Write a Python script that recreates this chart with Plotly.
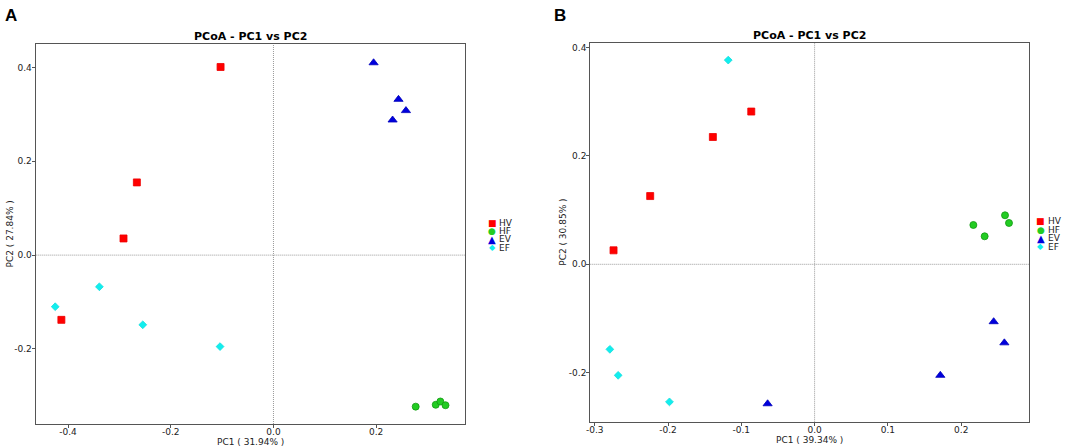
import plotly.graph_objects as go

groups = ["HV", "HF", "EV", "EF"]
colors = {"HV": "#ff0000", "HF": "#22cc22", "EV": "#0000dd", "EF": "#11eeee"}
lines = {"HV": "#ee0000", "HF": "#119911", "EV": "#0000bb", "EF": "#11dddd"}
symbols = {"HV": "square", "HF": "circle", "EV": "triangle-up", "EF": "diamond"}
glyphs = {"HV": "■", "HF": "●", "EV": "▲", "EF": "◆"}
sizes = {"HV": 7, "HF": 7, "EV": 8, "EF": 6}

# Panel A
a_x = {
    "HV": [-0.103, -0.266, -0.292, -0.413],
    "HF": [0.277, 0.316, 0.325, 0.335],
    "EV": [0.195, 0.2435, 0.258, 0.232],
    "EF": [-0.425, -0.339, -0.2545, -0.104],
}
a_y = {
    "HV": [0.401, 0.155, 0.0355, -0.138],
    "HF": [-0.323, -0.319, -0.312, -0.320],
    "EV": [0.410, 0.332, 0.308, 0.288],
    "EF": [-0.110, -0.0675, -0.1485, -0.195],
}
# Panel B
b_x = {
    "HV": [-0.2743, -0.2243, -0.1388, -0.0864],
    "HF": [0.2166, 0.232, 0.2598, 0.2652],
    "EV": [-0.0641, 0.1715, 0.2443, 0.2589],
    "EF": [-0.1178, -0.2793, -0.268, -0.198],
}
b_y = {
    "HV": [0.0258, 0.126, 0.235, 0.282],
    "HF": [0.0726, 0.0517, 0.0905, 0.0763],
    "EV": [-0.2575, -0.205, -0.106, -0.145],
    "EF": [0.377, -0.157, -0.205, -0.254],
}

a_xlabel = "PC1 ( 31.94% )"
a_ylabel = "PC2 ( 27.84% )"
b_xlabel = "PC1 ( 39.34% )"
b_ylabel = "PC2 ( 30.85% )"
title = "PCoA - PC1 vs PC2"

a_xticks = [-0.4, -0.2, 0.0, 0.2]
a_yticks = [-0.2, 0.0, 0.2, 0.4]
b_xticks = [-0.3, -0.2, -0.1, 0.0, 0.1, 0.2]
b_yticks = [-0.2, 0.0, 0.2, 0.4]

fig = go.Figure()
for g in groups:
    fig.add_trace(go.Scatter(
        x=a_x[g], y=a_y[g], mode="markers", name=g, showlegend=False,
        marker=dict(symbol=symbols[g], size=sizes[g], color=colors[g],
                    line=dict(color=lines[g], width=0.8)),
        xaxis="x", yaxis="y"))
for g in groups:
    fig.add_trace(go.Scatter(
        x=b_x[g], y=b_y[g], mode="markers", name=g, showlegend=False,
        marker=dict(symbol=symbols[g], size=sizes[g], color=colors[g],
                    line=dict(color=lines[g], width=0.8)),
        xaxis="x2", yaxis="y2"))

W, H = 1084, 448
font = "DejaVu Sans"
txt = "#222222"
axis_common = dict(showgrid=False, zeroline=False, showline=True, linecolor="#555555",
                   linewidth=1.2, mirror=True, ticks="outside", ticklen=3,
                   tickcolor="#555555", automargin=False,
                   tickfont=dict(size=9, family=font, color=txt))
xstyle = dict(axis_common, ticklabelstandoff=-4)
ystyle = dict(axis_common, ticklabelstandoff=-2)

A = dict(l=35.7, r=465, t=44, b=424)
B = dict(l=590.3, r=1029, t=43.3, b=422.3)

fig.update_layout(
    width=W, height=H, margin=dict(l=0, r=0, t=0, b=0, autoexpand=False),
    plot_bgcolor="white", paper_bgcolor="white", showlegend=False,
    font=dict(family=font, size=9, color=txt),
    xaxis=dict(domain=[A["l"] / W, A["r"] / W], range=[-0.463, 0.373], anchor="y",
               tickvals=a_xticks, ticktext=[f"{v:.1f}" for v in a_xticks], **xstyle),
    yaxis=dict(domain=[1 - A["b"] / H, 1 - A["t"] / H], range=[-0.360, 0.450], anchor="x",
               tickvals=a_yticks, ticktext=[f"{v:.1f}" for v in a_yticks], **ystyle),
    xaxis2=dict(domain=[B["l"] / W, B["r"] / W], range=[-0.306, 0.2925], anchor="y2",
                tickvals=b_xticks, ticktext=[f"{v:.1f}" for v in b_xticks], **xstyle),
    yaxis2=dict(domain=[1 - B["b"] / H, 1 - B["t"] / H], range=[-0.2917, 0.408], anchor="x2",
                tickvals=b_yticks, ticktext=[f"{v:.1f}" for v in b_yticks], **ystyle),
)

ann = []
def px(xp, yp, text, size=9, color=txt, xanchor="center", yanchor="middle", angle=0, fam=font):
    ann.append(dict(text=text, x=xp / W, y=1 - yp / H, xref="paper", yref="paper",
                    xanchor=xanchor, yanchor=yanchor, showarrow=False, textangle=angle,
                    font=dict(size=size, family=fam, color=color)))

# panel letters
px(3, 15, "<b>A</b>", size=17, xanchor="left", fam="Liberation Sans", color="black")
px(552, 15, "<b>B</b>", size=17, xanchor="left", fam="Liberation Sans", color="black")
# titles
px((A["l"] + A["r"]) / 2, 36, "<b>" + title + "</b>", size=11, color="black")
px((B["l"] + B["r"]) / 2, 35, "<b>" + title + "</b>", size=11, color="black")
# axis titles
px((A["l"] + A["r"]) / 2, 442, a_xlabel)
px((B["l"] + B["r"]) / 2, 440, b_xlabel)
px(9.5, (A["t"] + A["b"]) / 2, a_ylabel, angle=-90)
px(563, (B["t"] + B["b"]) / 2, b_ylabel, angle=-90)

# legends
legA = dict(mx=492.3, tx=497.3, ys=[222.7, 231, 239.3, 247.8])
legB = dict(mx=1040.7, tx=1046, ys=[221.3, 229.7, 238, 246.7])
gsize = {"HV": 9, "HF": 9, "EV": 10, "EF": 8}
for leg in (legA, legB):
    for g, yy in zip(groups, leg["ys"]):
        px(leg["mx"], yy, glyphs[g], size=gsize[g], color=colors[g])
        px(leg["tx"], yy, g, size=9, xanchor="left")

fig.update_layout(annotations=ann)

dot = dict(color="#999999", width=1, dash="1px,1px")
fig.add_shape(type="line", xref="x", yref="paper", x0=0, x1=0, y0=1 - A["b"] / H, y1=1 - A["t"] / H,
              line=dot, layer="below")
fig.add_shape(type="line", xref="paper", yref="y", x0=A["l"] / W, x1=A["r"] / W, y0=0, y1=0,
              line=dot, layer="below")
fig.add_shape(type="line", xref="x2", yref="paper", x0=0, x1=0, y0=1 - B["b"] / H, y1=1 - B["t"] / H,
              line=dot, layer="below")
fig.add_shape(type="line", xref="paper", yref="y2", x0=B["l"] / W, x1=B["r"] / W, y0=0, y1=0,
              line=dot, layer="below")

fig.write_html("out.html", config={"displayModeBar": False},
               post_script="document.body.style.margin='0';document.body.style.overflow='hidden';")
